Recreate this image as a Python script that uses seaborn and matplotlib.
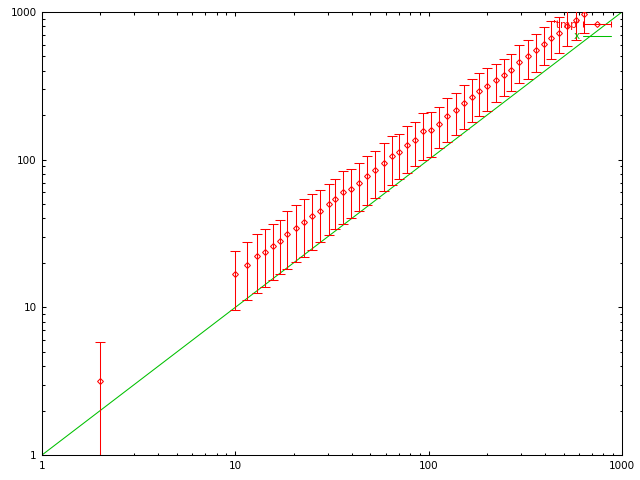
import numpy as np
import matplotlib
matplotlib.use("Agg")
import matplotlib.pyplot as plt
import seaborn as sns
from matplotlib.lines import Line2D
from matplotlib.ticker import LogLocator, NullFormatter
from matplotlib.legend_handler import HandlerLine2D, HandlerTuple

# datos ('tmp' con barras de error)
x_vals = [2, 10, 11.5, 13.0, 14.2, 15.6, 17.1, 18.6, 20.6, 22.6, 24.8, 27.3, 30.4,
          32.8, 36.2, 39.8, 43.8, 48.2, 53.0, 58.8, 64.7, 70.5, 77.6, 85.3, 93.9,
          102.9, 113.2, 125, 139, 153, 168.3, 183, 201.3, 223.2, 244.7, 267.9,
          294.4, 328, 358, 394, 429.7, 472.7, 522, 579, 634]
y_vals = [3.16, 16.7, 19.2, 22.2, 23.6, 25.9, 28.0, 31.2, 34.3, 37.6, 41.3, 44.7, 50.0,
          53.8, 60.0, 62.9, 69.1, 77.4, 84.7, 94.4, 105.2, 112.0, 125.0, 135.1, 156.2,
          157.9, 173.4, 196.4, 215.7, 241.7, 265.4, 290, 315, 344.3, 374, 404.3,
          455.9, 502.8, 549.5, 609.2, 665.9, 719.4, 800, 881, 968]
y_low = [0.52, 9.6, 11.2, 12.6, 13.7, 15.4, 16.9, 18.3, 20.2, 21.8, 24.5, 27.5, 30.9,
         33.7, 36.5, 40.0, 44.7, 49.1, 54.7, 61.0, 67.0, 73.5, 80.7, 90.5, 98.9,
         103.7, 119.3, 131, 146.1, 160.4, 179.7, 196.4, 213.3, 245.5, 269.6, 290,
         330, 353, 391.7, 434.9, 482, 524.5, 585, 642, 716]
y_high = [5.8, 23.9, 27.7, 31.2, 33.7, 36.6, 38.8, 44.7, 49.3, 53.8, 58.5, 62.3, 68.0,
          73.5, 83.3, 86.0, 94.4, 105.2, 113.8, 128.9, 143.8, 148.3, 168.0, 179.0, 205.8,
          209, 226, 260, 282.5, 318.5, 349.8, 383.9, 415, 443.8, 477.6, 516.3,
          597, 642, 705, 786.6, 872, 928, 1015, 1120, 1220]

# funcion f(x) = x
linea_x = [1, 1000]

ROJO = "#ff0000"
VERDE = "#00c000"

sns.set_theme(style="ticks")
plt.rcParams["font.family"] = ["DejaVu Sans"]

fig = plt.figure(figsize=(6.4, 4.8), dpi=100)
fig.patch.set_facecolor("white")
ax = fig.add_axes([42 / 640, 25 / 480, 580 / 640, 443 / 480])
ax.set_facecolor("white")

y = np.array(y_vals)
err = [y - np.array(y_low), np.array(y_high) - y]
ax.errorbar(x_vals, y_vals, yerr=err, fmt="D", ms=3, mfc="none", mec=ROJO,
            mew=0.75, ecolor=ROJO, elinewidth=0.75, capsize=3.5, capthick=0.75,
            color=ROJO, zorder=3)

sns.lineplot(x=linea_x, y=linea_x, color=VERDE, lw=0.75, ax=ax, zorder=2)

ax.set_xscale("log")
ax.set_yscale("log")
ax.set_xlim(1, 1000)
ax.set_ylim(1, 1000)

ticks = [1, 10, 100, 1000]
etiquetas = ["1", "10", "100", "1000"]
ax.set_xticks(ticks, etiquetas)
ax.set_yticks(ticks, etiquetas)
for eje in (ax.xaxis, ax.yaxis):
    eje.set_minor_locator(LogLocator(base=10, subs=np.arange(2, 10)))
    eje.set_minor_formatter(NullFormatter())

ax.tick_params(which="both", direction="in", top=True, right=True,
               color="black", width=0.75, labelsize=7.5, labelcolor="black", pad=4)
ax.tick_params(which="major", length=3.2)
ax.tick_params(which="minor", length=1.8)
for s in ax.spines.values():
    s.set_linewidth(0.75)
    s.set_color("black")
ax.set_xlabel("")
ax.set_ylabel("")

# leyenda estilo gnuplot
h_caps = Line2D([], [], color=ROJO, lw=0.75, marker="|", ms=5, mew=0.75)
h_pt = Line2D([], [], ls="none", marker="D", ms=3, mfc="none", mec=ROJO, mew=0.75)
h_x = Line2D([], [], color=VERDE, lw=0.75)
leg = ax.legend([(h_caps, h_pt), h_x], ["'tmp'", "x"],
                handler_map={h_caps: HandlerLine2D(numpoints=2, marker_pad=0),
                             h_pt: HandlerLine2D(numpoints=1),
                             tuple: HandlerTuple(ndivide=1)},
                loc="upper right", bbox_to_anchor=(1 - 11 / 580, 1 - 8 / 443),
                frameon=False, markerfirst=False, fontsize=7.5, handlelength=2.7,
                handletextpad=0.3, labelspacing=0.12, borderpad=0, borderaxespad=0)
for t, c in zip(leg.get_texts(), [ROJO, VERDE]):
    t.set_color(c)

fig.savefig("out.png", dpi=100)
